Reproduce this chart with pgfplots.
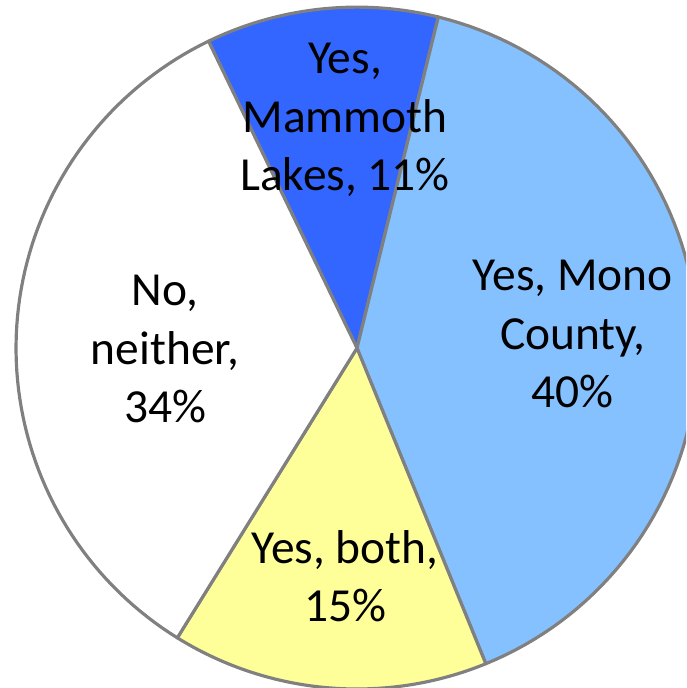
\documentclass[border=0pt]{standalone}
\usepackage{pgfplots}
\pgfplotsset{compat=1.18}
\usepackage{fontspec}
\setmainfont{Carlito}
\definecolor{cMam}{RGB}{51,102,255}
\definecolor{cMono}{RGB}{133,193,255}
\definecolor{cBoth}{RGB}{255,255,153}
\definecolor{cNo}{RGB}{255,255,255}
\definecolor{cEdge}{RGB}{128,128,128}
% slice: #1 start percent (cumulative), #2 value percent, #3 colour
\newcommand\slice[3]{%
  \pgfmathsetmacro\aS{115.8-3.6*#1}%
  \pgfmathsetmacro\aE{115.8-3.6*(#1+#2)}%
  \addplot[draw=cEdge, line width=0.9pt, fill=#3, domain=\aS:\aE, samples=80, line join=round]
    ({cos(x)},{sin(x)}) -- (axis cs:0,0) -- cycle;%
}
\tikzset{lbl/.style={font=\fontsize{13.5}{16.6}\selectfont, align=center, text=black, inner sep=0pt}}
\begin{document}
\begin{tikzpicture}
\begin{axis}[
  scale only axis, width=6.86cm, height=6.88cm,
  xmin=-1.047, xmax=0.965, ymin=-0.997, ymax=1.021,
  hide axis, clip=true,
]
\slice{0}{11}{cMam}
\slice{11}{40}{cMono}
\slice{51}{15}{cBoth}
\slice{66}{34}{cNo}
\node[lbl] at (axis cs:-0.035,0.669) {Yes,\\Mammoth\\Lakes, 11\%};
\node[lbl] at (axis cs:0.633,0.041) {Yes, Mono\\County,\\40\%};
\node[lbl] at (axis cs:-0.563,-0.003) {No,\\neither,\\34\%};
\node[lbl] at (axis cs:-0.035,-0.669) {Yes, both,\\15\%};
\end{axis}
\pgfresetboundingbox
\useasboundingbox (current axis.south west) rectangle (current axis.north east);
\end{tikzpicture}
\end{document}
